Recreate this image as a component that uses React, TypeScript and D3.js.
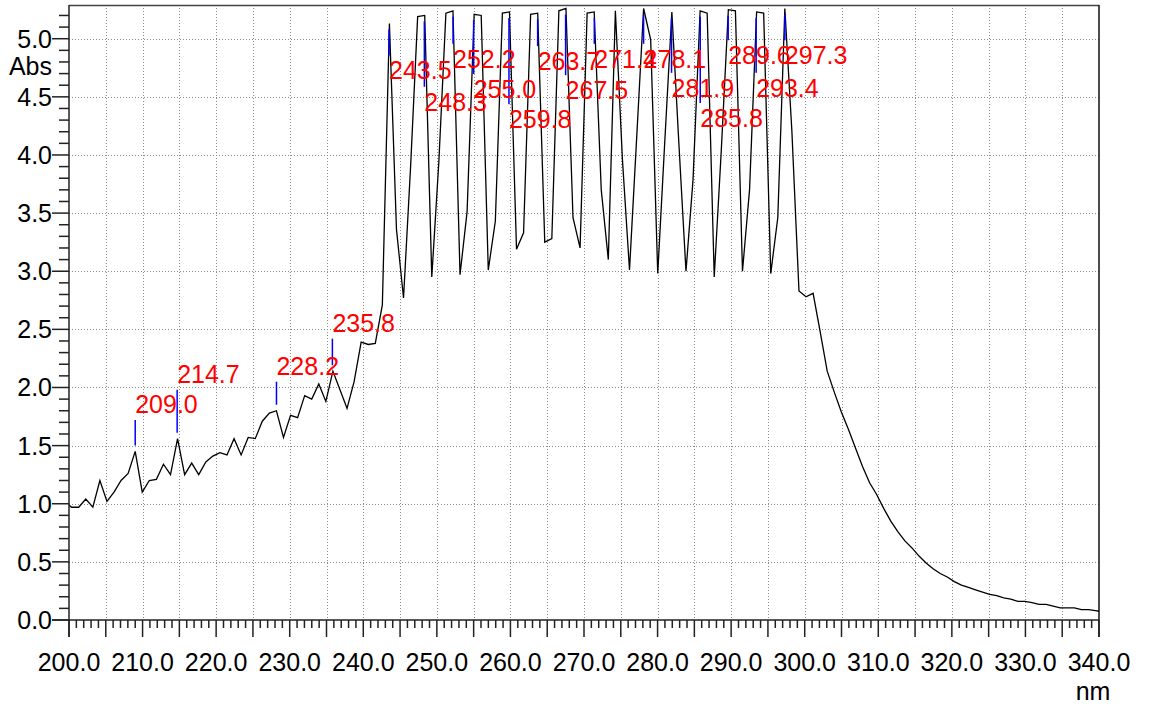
import React from "react";
import * as d3 from "d3";

// ---- data ----
const WL_START = 199.4; // nm, first sample
const WL_STEP = 0.9598; // nm, sampling interval of the instrument
const ABS: number[] = [
  1.02,
  0.97, 0.97, 1.04, 0.97, 1.2, 1.02, 1.1, 1.2, 1.26, 1.45,
  1.1, 1.2, 1.21, 1.34, 1.25, 1.56, 1.25, 1.35, 1.25, 1.36,
  1.41, 1.44, 1.42, 1.56, 1.42, 1.57, 1.56, 1.71, 1.78, 1.8,
  1.57, 1.76, 1.74, 1.93, 1.9, 2.03, 1.88, 2.14, 1.98, 1.82,
  2.05, 2.39, 2.37, 2.38, 2.71, 5.13, 3.36, 2.77, 3.9, 5.19,
  5.2, 2.95, 3.94, 5.22, 5.24, 2.97, 3.51, 5.21, 5.2, 3.01,
  3.43, 5.22, 5.23, 3.19, 3.33, 5.21, 5.22, 3.25, 3.28, 5.24,
  5.26, 3.46, 3.2, 5.22, 5.23, 3.7, 3.1, 5.24, 3.96, 3.01,
  4.13, 5.26, 4.99, 2.98, 4.12, 5.23, 4.09, 3.0, 3.79, 5.24,
  5.22, 2.95, 4.04, 5.25, 5.24, 3.0, 3.7, 5.23, 5.22, 2.98,
  3.46, 5.26, 4.2, 2.83, 2.78, 2.81, 2.48, 2.14, 1.96, 1.79,
  1.64, 1.48, 1.32, 1.18, 1.08, 0.96, 0.85, 0.76, 0.68, 0.62,
  0.55, 0.49, 0.44, 0.4, 0.37, 0.33, 0.3, 0.28, 0.26, 0.24,
  0.22, 0.21, 0.19, 0.18, 0.16, 0.16, 0.15, 0.135, 0.135, 0.12,
  0.105, 0.105, 0.105, 0.09, 0.09, 0.08, 0.07,
];

// peak picks: wavelength label and absorbance level of the label baseline
const PEAK_WL: number[] = [
  209.0, 214.7, 228.2, 235.8, 243.5, 248.3, 252.2, 255.0, 259.8,
  263.7, 267.5, 271.4, 278.1, 281.9, 285.8, 289.6, 293.4, 297.3,
];
const PEAK_LABEL_ABS: number[] = [
  1.78, 2.04, 2.11, 2.48, 4.65, 4.38, 4.75, 4.49, 4.23,
  4.73, 4.48, 4.75, 4.75, 4.5, 4.24, 4.78, 4.5, 4.78,
];

const X_TICK_LABELS = [
  "200.0", "210.0", "220.0", "230.0", "240.0", "250.0", "260.0", "270.0",
  "280.0", "290.0", "300.0", "310.0", "320.0", "330.0", "340.0",
];
const Y_TICK_LABELS = ["0.0", "0.5", "1.0", "1.5", "2.0", "2.5", "3.0", "3.5", "4.0", "4.5", "5.0"];

const X_UNIT = "nm";
const Y_UNIT = "Abs";

// ---- layout ----
const W = 1162;
const H = 708;
const L = 69;
const R = 1099;
const T = 5;
const B = 620;
const FONT = "'Liberation Sans', Arial, sans-serif";

export default function App() {
  const x = d3.scaleLinear().domain([200, 340]).range([L, R]);
  const y = d3.scaleLinear().domain([0, 5.29]).range([B, T]);

  const pts: [number, number][] = ABS.map((v, i) => [WL_START + i * WL_STEP, v]);
  const line = d3
    .line<[number, number]>()
    .x((d) => x(d[0]))
    .y((d) => y(d[1]));

  const xMinor = d3.range(200, 341, 1);
  const xGrid = d3.range(205, 340, 5);
  const yMinor = d3.range(0, 53, 1).map((d) => d / 10);
  const yGrid = d3.range(1, 11).map((d) => d / 2);

  const peaks = PEAK_WL.map((wl, i) => {
    const idx = Math.round((wl - WL_START) / WL_STEP);
    const pv = ABS[idx];
    const lv = PEAK_LABEL_ABS[i];
    const px = x(wl);
    const py = y(pv);
    const ly = y(lv);
    const above = lv < pv ? false : true;
    const t1 = above ? py - 6 : py + 6;
    const t2 = above ? ly + 7 : ly - 24;
    return { wl, px, ly, t1, t2 };
  });

  return (
    <div style={{ position: "absolute", left: 0, top: 0 }}>
      <svg width={W} height={H} style={{ display: "block", background: "#fff" }}>
        <defs>
          <clipPath id="plot">
            <rect x={L} y={T} width={R - L} height={B - T} />
          </clipPath>
        </defs>
        {/* grid */}
        <g stroke="#8a8a8a" strokeWidth={1} strokeDasharray="1 2">
          {xGrid.map((v) => (
            <line key={"gx" + v} x1={Math.round(x(v)) + 0.5} x2={Math.round(x(v)) + 0.5} y1={T} y2={B} />
          ))}
          {yGrid.map((v) => (
            <line key={"gy" + v} x1={L} x2={R} y1={Math.round(y(v)) + 0.5} y2={Math.round(y(v)) + 0.5} />
          ))}
        </g>

        {/* frame */}
        <line x1={L} x2={R} y1={T + 0.5} y2={T + 0.5} stroke="#444" strokeWidth={1.5} />
        <line x1={R} x2={R} y1={T} y2={B + 17} stroke="#111" strokeWidth={1.5} />

        {/* spectrum */}
        <path d={line(pts) || ""} fill="none" stroke="#000" strokeWidth={1.3} clipPath="url(#plot)" />

        {/* peak picks */}
        <g>
          {peaks.map((p) => (
            <line key={"pt" + p.wl} x1={p.px} x2={p.px} y1={p.t1} y2={p.t2} stroke="#0000ff" strokeWidth={1.5} />
          ))}
          {peaks.map((p) => (
            <text key={"pl" + p.wl} x={p.px} y={p.ly} fill="#ff0000" fontFamily={FONT} fontSize={25}>
              {p.wl.toFixed(1)}
            </text>
          ))}
        </g>

        {/* axes */}
        <g stroke="#222" strokeWidth={1.5}>
          <line x1={L} x2={L} y1={T} y2={B + 17} />
          <line x1={L - 17} x2={R} y1={B} y2={B} />
          {xMinor.map((v) => (
            <line key={"xt" + v} x1={x(v)} x2={x(v)} y1={B} y2={B + (v % 5 === 0 ? 17 : 8)} />
          ))}
          {yMinor.map((v) => (
            <line
              key={"yt" + v}
              x1={L - (Math.round(v * 10) % 5 === 0 ? 17 : 10)}
              x2={L}
              y1={y(v)}
              y2={y(v)}
            />
          ))}
        </g>

        {/* tick labels */}
        <g fontFamily={FONT} fontSize={25} fill="#000">
          {X_TICK_LABELS.map((t) => (
            <text key={"xl" + t} x={x(+t)} y={671} textAnchor="middle">
              {t}
            </text>
          ))}
          {Y_TICK_LABELS.map((t) => (
            <text key={"yl" + t} x={L - 17} y={y(+t) + 9} textAnchor="end">
              {t}
            </text>
          ))}
          <text x={L - 17} y={75} textAnchor="end">
            {Y_UNIT}
          </text>
          <text x={1093} y={700} textAnchor="middle">
            {X_UNIT}
          </text>
        </g>
      </svg>
    </div>
  );
}
